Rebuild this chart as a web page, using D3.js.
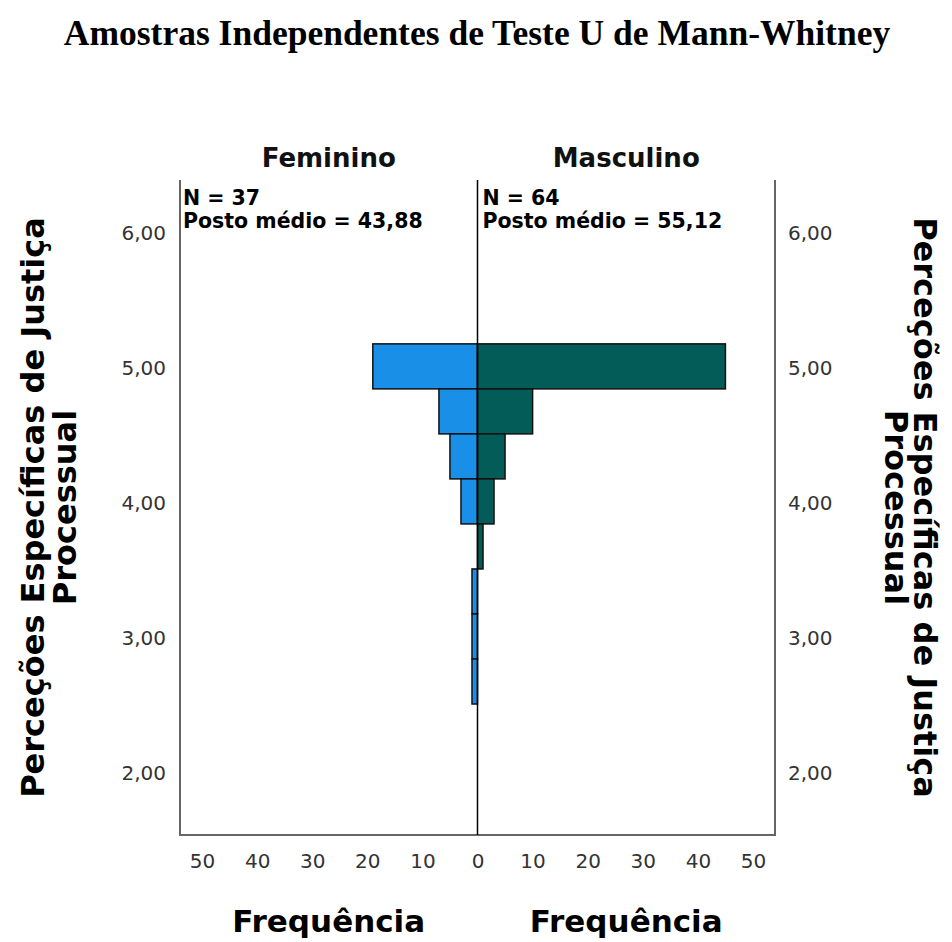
<!DOCTYPE html>
<meta charset="utf-8">
<script src="https://d3js.org/d3.v7.min.js"></script>
<style>
  body { margin: 0; background: #fff; }
  text { font-family: "DejaVu Sans", sans-serif; }
</style>
<body>
<div id="chart"></div>
<script>
// bins of the score (width 1/3), from the top down
var binCenters = [5, 14/3, 13/3, 4, 11/3, 10/3, 3, 8/3];
var femininoCounts = [19, 7, 5, 3, 0, 1, 1, 1];
var masculinoCounts = [45, 10, 5, 3, 1, 0, 0, 0];
var groups = ["Feminino", "Masculino"];
var groupN = [37, 64];
var groupRank = ["43,88", "55,12"];
var yTicks = [2, 3, 4, 5, 6];
var xTicks = [0, 10, 20, 30, 40, 50];
var binWidth = 1/3;

var W = 952, H = 942;
var pLeft = 180, pRight = 775, pCenter = 477.5, pTop = 180, pBottom = 835;

var svg = d3.select("#chart").append("svg")
    .attr("width", W)
    .attr("height", H);

var y = d3.scaleLinear().domain([1.53, 6.38]).range([pBottom, pTop]);
var xF = d3.scaleLinear().domain([0, 54]).range([pCenter, pLeft]);
var xM = d3.scaleLinear().domain([0, 54]).range([pCenter, pRight]);

var fmt = function(d) { return d3.format(".2f")(d).replace(".", ","); };

// title
svg.append("text")
    .attr("x", 477).attr("y", 45)
    .attr("text-anchor", "middle")
    .style("font-family", "'Liberation Serif', 'Times New Roman', serif")
    .style("font-weight", "bold")
    .style("font-size", "35.5px")
    .text("Amostras Independentes de Teste U de Mann-Whitney");

// bars
var femData = binCenters.map(function(c, i) { return {c: c, n: femininoCounts[i]}; }).filter(d => d.n > 0);
var mascData = binCenters.map(function(c, i) { return {c: c, n: masculinoCounts[i]}; }).filter(d => d.n > 0);

svg.append("g").selectAll("rect")
  .data(femData)
  .enter().append("rect")
    .attr("x", d => xF(d.n))
    .attr("width", d => xF(0) - xF(d.n))
    .attr("y", d => y(d.c + binWidth / 2))
    .attr("height", d => y(d.c - binWidth / 2) - y(d.c + binWidth / 2))
    .attr("fill", "#1a8fe8")
    .attr("stroke", "#111")
    .attr("stroke-width", 1.5);

svg.append("g").selectAll("rect")
  .data(mascData)
  .enter().append("rect")
    .attr("x", xM(0))
    .attr("width", d => xM(d.n) - xM(0))
    .attr("y", d => y(d.c + binWidth / 2))
    .attr("height", d => y(d.c - binWidth / 2) - y(d.c + binWidth / 2))
    .attr("fill", "#045c59")
    .attr("stroke", "#111")
    .attr("stroke-width", 1.5);

// frame (open at top)
svg.append("path")
    .attr("d", "M" + pLeft + "," + pTop + "V" + pBottom + "H" + pRight + "V" + pTop)
    .attr("fill", "none")
    .attr("stroke", "#666")
    .attr("stroke-width", 2);

// centre line
svg.append("line")
    .attr("x1", pCenter).attr("x2", pCenter)
    .attr("y1", pTop).attr("y2", pBottom)
    .attr("stroke", "#000")
    .attr("stroke-width", 1.5);

// y axes
var yl = svg.append("g")
    .attr("transform", "translate(" + (pLeft - 14) + ",2)")
    .call(d3.axisLeft(y).tickValues(yTicks).tickFormat(fmt).tickSize(0).tickPadding(0));
var yr = svg.append("g")
    .attr("transform", "translate(" + (pRight + 13) + ",2)")
    .call(d3.axisRight(y).tickValues(yTicks).tickFormat(fmt).tickSize(0).tickPadding(0));

// x axes
var xl = svg.append("g")
    .attr("transform", "translate(0," + (pBottom + 12) + ")")
    .call(d3.axisBottom(xF).tickValues(xTicks).tickSize(0).tickPadding(0));
var xr = svg.append("g")
    .attr("transform", "translate(0," + (pBottom + 12) + ")")
    .call(d3.axisBottom(xM).tickValues(xTicks.slice(1)).tickSize(0).tickPadding(0));

[yl, yr, xl, xr].forEach(function(g) {
  g.select(".domain").remove();
  g.selectAll("text")
    .style("font-family", "'DejaVu Sans', sans-serif")
    .style("font-size", "20px")
    .attr("fill", "#333");
});
xl.selectAll("text").attr("dy", "1.05em");
xr.selectAll("text").attr("dy", "1.05em");

// group headings, N and mean rank
var mids = [(pLeft + pCenter) / 2, (pCenter + pRight) / 2];
var starts = [pLeft + 3, pCenter + 5];
groups.forEach(function(g, i) {
  svg.append("text")
      .attr("x", mids[i]).attr("y", 167)
      .attr("text-anchor", "middle")
      .style("font-weight", "bold")
      .style("font-size", "26px")
      .attr("fill", "#111")
      .text(g);
  svg.append("text")
      .attr("x", starts[i]).attr("y", 205)
      .style("font-weight", "bold")
      .style("font-size", "20.5px")
      .text("N = " + groupN[i]);
  svg.append("text")
      .attr("x", starts[i]).attr("y", 228)
      .style("font-weight", "bold")
      .style("font-size", "20.5px")
      .text("Posto médio = " + groupRank[i]);
  svg.append("text")
      .attr("x", mids[i]).attr("y", 932)
      .attr("text-anchor", "middle")
      .style("font-weight", "bold")
      .style("font-size", "31px")
      .text("Frequência");
});

// axis titles
var yMid = (pTop + pBottom) / 2;
var titleLines = ["Perceções Específicas de Justiça", "Processual"];
var leftT = svg.append("text")
    .attr("transform", "translate(44," + yMid + ") rotate(-90)")
    .attr("text-anchor", "middle")
    .style("font-weight", "bold")
    .style("font-size", "32px");
leftT.append("tspan").attr("x", 0).attr("y", 0).text(titleLines[0]);
leftT.append("tspan").attr("x", 0).attr("y", 32).text(titleLines[1]);

var rightT = svg.append("text")
    .attr("transform", "translate(914," + yMid + ") rotate(90)")
    .attr("text-anchor", "middle")
    .style("font-weight", "bold")
    .style("font-size", "32px");
rightT.append("tspan").attr("x", 0).attr("y", 0).text(titleLines[0]);
rightT.append("tspan").attr("x", 0).attr("y", 29).text(titleLines[1]);
</script>
</body>
</html>
